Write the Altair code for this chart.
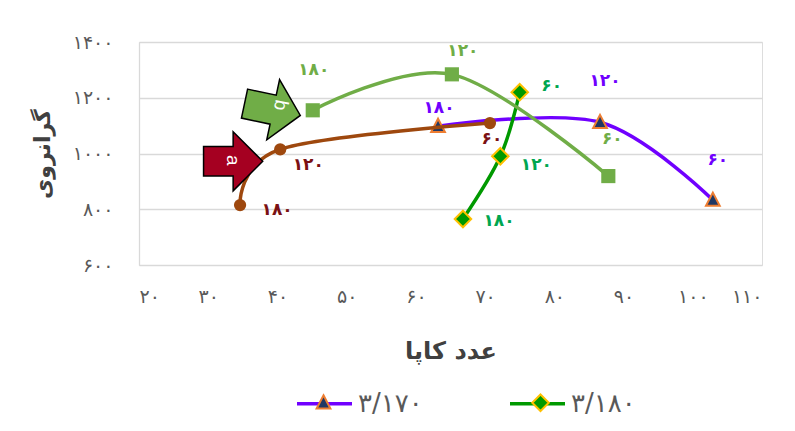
import altair as alt
import pandas as pd

# ---------------- data ----------------
# series without a legend entry: "a" (brown) and "b" (light green)
a_kappa = [34.6, 40.4, 70.7]
a_visc = [815, 1015, 1109]
b_kappa = [45.1, 65.2, 87.8]
b_visc = [1155, 1284, 919]
# legend series
s170_kappa = [63.2, 86.6, 102.9]
s170_visc = [1098, 1112, 833]
s180_kappa = [66.8, 72.2, 75.0]
s180_visc = [765, 990, 1220]

point_labels = ["۱۸۰", "۱۲۰", "۶۰"]
legend_names = ["۳/۱۷۰", "۳/۱۸۰"]

x_ticks = [20, 30, 40, 50, 60, 70, 80, 90, 100, 110]
x_tick_labels = ["۲۰", "۳۰", "۴۰", "۵۰", "۶۰", "۷۰", "۸۰", "۹۰", "۱۰۰", "۱۱۰"]
y_ticks = [600, 800, 1000, 1200, 1400]
y_tick_labels = ["۶۰۰", "۸۰۰", "۱۰۰۰", "۱۲۰۰", "۱۴۰۰"]

x_title = "عدد کاپا"
y_title = "گرانروی"

arrow_text = ["a", "b"]
arrow_kappa = [33.6, 39.6]
arrow_visc = [972, 1156]

# ---------------- styles / layout ----------------
FONT = "DejaVu Sans"
LATIN = "Liberation Sans"
GRID = "#d9d9d9"
TICK_COLOR = "#595959"
TITLE_COLOR = "#404040"

BROWN, BROWN_LABEL = "#9e480e", "#7b1113"
LGREEN = "#70ad47"
PURPLE = "#7000ff"
DGREEN, DGREEN_LABEL = "#009900", "#00a650"
NAVY, ORANGE, GOLD = "#203864", "#ed7d31", "#ffc000"

# pixel offsets of each data label from its point (label placement)
label_offsets = {
    "a": [(37, 5), (28, 16), (2, 16)],
    "b": [(1, -40), (11, -23), (4, -37)],
    "s170": [(1, -18), (5, -41), (5, -40)],
    "s180": [(36, 2), (36, 9), (32, -6)],
}
label_colors = {"a": BROWN_LABEL, "b": LGREEN, "s170": PURPLE, "s180": DGREEN_LABEL}

TRI = "M -1 0 M 1 0 M 0 -0.27 L 0.25 0.21 L -0.25 0.21 Z"
DIA = "M -1 0 M 1 0 M 0 -0.3 L 0.3 0 L 0 0.3 L -0.3 0 Z"
ARROW_A = "M -1 -0.5 L 0 -0.5 L 0 -1 L 1 0 L 0 1 L 0 0.5 L -1 0.5 Z"
ARROW_B = "M -1 -0.48 L -0.05 -0.48 L -0.05 -1 L 0.85 0 L -0.05 1 L -0.05 0.48 L -1 0.48 Z"


def rows(key, kappa, visc, legend_name):
    out = []
    for i, (k, v, lab) in enumerate(zip(kappa, visc, point_labels)):
        out.append(dict(key=key, kappa=k, visc=v, label=lab, idx=i,
                        legend=legend_name, legend_m=legend_name))
    return out


df = pd.DataFrame(
    rows("a", a_kappa, a_visc, "")
    + rows("b", b_kappa, b_visc, "")
    + rows("s170", s170_kappa, s170_visc, legend_names[0])
    + rows("s180", s180_kappa, s180_visc, legend_names[1])
)
arrows_df = pd.DataFrame({"kappa": arrow_kappa, "visc": arrow_visc, "txt": arrow_text})


def ternary(values, labels):
    expr = "''"
    for v, l in reversed(list(zip(values, labels))):
        expr = f"datum.value == {v} ? '{l}' : ({expr})"
    return expr


x_axis = alt.Axis(values=x_ticks, labelExpr=ternary(x_ticks, x_tick_labels), grid=False,
                  domain=False, ticks=False, tickSize=0, labelPadding=22, labelFont=FONT,
                  labelFontSize=19, labelColor=TICK_COLOR, title=x_title, titleFont=FONT,
                  titleFontSize=24, titleFontWeight="bold", titleColor=TITLE_COLOR,
                  titlePadding=33)
y_axis = alt.Axis(values=y_ticks, labelExpr=ternary(y_ticks, y_tick_labels), grid=True,
                  gridColor=GRID, gridWidth=1.3, domain=True, domainColor=GRID,
                  domainWidth=1.3, ticks=False, tickSize=0, labelPadding=26, labelFont=FONT,
                  labelFontSize=19, labelColor=TICK_COLOR, title=y_title, titleFont=FONT,
                  titleFontSize=22, titleFontWeight="bold", titleColor=TITLE_COLOR,
                  titlePadding=18)

X = alt.X("kappa:Q", scale=alt.Scale(domain=[20, 110], nice=False, zero=False), axis=x_axis)
Y = alt.Y("visc:Q", scale=alt.Scale(domain=[600, 1400], nice=False, zero=False), axis=y_axis)

base = alt.Chart(df)
legend_rows = alt.FieldOneOfPredicate(field="key", oneOf=["s170", "s180"])

common_legend = dict(orient="none", legendX=156, legendY=332, direction="horizontal",
                     title=None, labelFont=FONT, labelFontSize=26, labelColor=TICK_COLOR,
                     labelOffset=4, symbolSize=3025, padding=0)
line_legend = alt.Legend(symbolType="stroke", symbolStrokeWidth=3.5, columnPadding=80,
                         **common_legend)
# marker legend drawn over the line legend: no label text of its own
marker_legend = alt.Legend(symbolStrokeWidth=2, symbolOpacity=1, labelExpr="''",
                           columnPadding=153, **common_legend)

# colour scale domain comes from the data so this legend is not merged with the marker one
legend_lines = base.transform_filter(legend_rows).mark_line(
    interpolate="cardinal", strokeWidth=3.5).encode(
    x=X, y=Y, order="idx:Q",
    color=alt.Color("legend:N", scale=alt.Scale(range=[PURPLE, DGREEN]), legend=line_legend))

legend_points = base.transform_filter(legend_rows).mark_point(
    filled=True, size=3025, strokeWidth=2, opacity=1).encode(
    x=X, y=Y,
    fill=alt.Fill("legend_m:N", scale=alt.Scale(domain=legend_names, range=[NAVY, DGREEN]),
                  legend=marker_legend),
    stroke=alt.Stroke("legend_m:N", scale=alt.Scale(domain=legend_names, range=[ORANGE, GOLD]),
                      legend=marker_legend),
    shape=alt.Shape("legend_m:N", scale=alt.Scale(domain=legend_names, range=[TRI, DIA]),
                    legend=marker_legend))

b_line = base.transform_filter(alt.datum.key == "b").mark_line(
    interpolate="cardinal", strokeWidth=3.5, color=LGREEN).encode(x=X, y=Y, order="idx:Q")
b_points = base.transform_filter(alt.datum.key == "b").mark_point(
    shape="square", filled=True, size=200, color=LGREEN, opacity=1).encode(x=X, y=Y)

a_line = base.transform_filter(alt.datum.key == "a").mark_line(
    interpolate="cardinal", strokeWidth=3.5, color=BROWN).encode(x=X, y=Y, order="idx:Q")
a_points = base.transform_filter(alt.datum.key == "a").mark_point(
    shape="circle", filled=True, size=150, color=BROWN, opacity=1).encode(x=X, y=Y)


def label_layer(key, i):
    dx, dy = label_offsets[key][i]
    return base.transform_filter((alt.datum.key == key) & (alt.datum.idx == i)).mark_text(
        font=FONT, fontSize=17, fontWeight="bold", color=label_colors[key], align="center",
        baseline="middle", dx=dx, dy=dy).encode(x=X, y=Y, text="label:N")


labels = [label_layer(k, i) for k in ["a", "b", "s170", "s180"] for i in range(3)]

arrow_base = alt.Chart(arrows_df)
arrow_a = arrow_base.transform_filter(alt.datum.txt == "a").mark_point(
    shape=ARROW_A, size=3500, filled=True, fill="#a50021", stroke="black", strokeWidth=1.5,
    opacity=1, angle=0).encode(x=X, y=Y)
arrow_b = arrow_base.transform_filter(alt.datum.txt == "b").mark_point(
    shape=ARROW_B, size=3800, filled=True, fill=LGREEN, stroke="black", strokeWidth=1.5,
    opacity=1, angle=12).encode(x=X, y=Y)
text_a = arrow_base.transform_filter(alt.datum.txt == "a").mark_text(
    font=LATIN, fontSize=19, color="white", angle=90, align="center", baseline="middle",
    dx=-1).encode(x=X, y=Y, text="txt:N")
text_b = arrow_base.transform_filter(alt.datum.txt == "b").mark_text(
    font=LATIN, fontSize=19, color="white", angle=102, align="center", baseline="middle",
    dx=-6, dy=-5).encode(x=X, y=Y, text="txt:N")

chart = alt.layer(
    legend_lines, legend_points, b_line, b_points, a_line, a_points,
    *labels, arrow_a, arrow_b, text_a, text_b
).properties(
    width=623, height=223,
    autosize=alt.AutoSizeParams(type="none"),
    padding={"left": 131, "top": 34, "right": 25, "bottom": 155},
).configure_view(stroke="transparent", strokeWidth=0).configure(font=FONT)

chart.save("out.html", embed_options={"renderer": "svg", "actions": False})
